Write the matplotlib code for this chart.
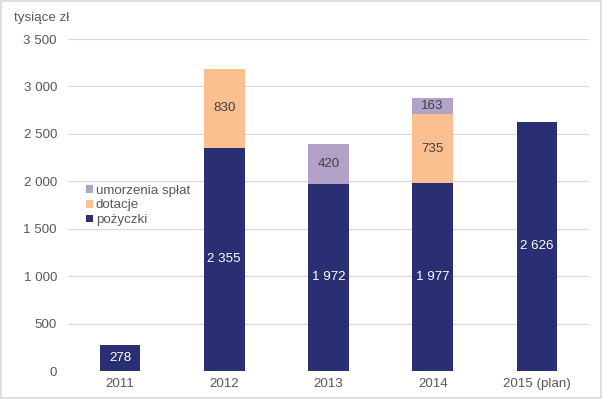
import matplotlib
matplotlib.use("Agg")
import matplotlib.pyplot as plt
from matplotlib.patches import Rectangle
import numpy as np

plt.rcParams['font.family'] = ['Liberation Sans', 'DejaVu Sans']

categories = ["2011", "2012", "2013", "2014", "2015 (plan)"]
pozyczki = [278, 2355, 1972, 1977, 2626]
dotacje = [0, 830, 0, 735, 0]
umorzenia = [0, 0, 420, 163, 0]
yticks = [0, 500, 1000, 1500, 2000, 2500, 3000, 3500]

c_poz = "#2A2F73"
c_dot = "#FAC090"
c_umo = "#B3A2C7"
txt = "#595959"
fs = 9.6

fig = plt.figure(figsize=(6.02, 3.99), dpi=100)
ax = fig.add_axes([68/602, 1 - 371/399, (589 - 68)/602, (371 - 39)/399])

x = np.arange(len(categories))
w = 0.39
b1 = ax.bar(x, pozyczki, w, color=c_poz, label="pożyczki", zorder=3)
bot2 = np.array(pozyczki)
b2 = ax.bar(x, dotacje, w, bottom=bot2, color=c_dot, label="dotacje", zorder=3)
bot3 = bot2 + np.array(dotacje)
b3 = ax.bar(x, umorzenia, w, bottom=bot3, color=c_umo, label="umorzenia spłat", zorder=3)

def fmt(v):
    return f"{v:,}".replace(",", " ")

for i in range(len(categories)):
    ax.text(x[i], pozyczki[i] / 2, fmt(pozyczki[i]), ha="center", va="center",
            color="white", fontsize=fs, zorder=4)
    if dotacje[i]:
        ax.text(x[i], bot2[i] + dotacje[i] / 2, fmt(dotacje[i]), ha="center", va="center",
                color="#404040", fontsize=fs, zorder=4)
    if umorzenia[i]:
        ax.text(x[i], bot3[i] + umorzenia[i] / 2, fmt(umorzenia[i]), ha="center", va="center",
                color="#404040", fontsize=fs, zorder=4)

ax.set_xlim(-0.5, len(categories) - 0.5)
ax.set_ylim(0, 3500)
ax.set_yticks(yticks)
ax.set_yticklabels([fmt(v) for v in yticks])
ax.set_xticks(x)
ax.set_xticklabels(categories)
ax.tick_params(axis="both", length=0, colors=txt, labelsize=fs)
ax.tick_params(axis="y", pad=8)
ax.tick_params(axis="x", pad=5)
ax.grid(axis="y", color="#D9D9D9", linewidth=0.8, zorder=0)
for s in ax.spines.values():
    s.set_visible(False)

handles = [b3, b2, b1]
leg = ax.legend(handles=handles, labels=[h.get_label() for h in handles],
                loc="upper left", bbox_to_anchor=(0.024, 0.577), frameon=False,
                fontsize=fs, handlelength=0.5, handleheight=0.5, handletextpad=0.25,
                labelspacing=0.2, borderaxespad=0)
for t in leg.get_texts():
    t.set_color(txt)

fig.text(14/602, 1 - 18/399, "tysiące zł", fontsize=fs, color=txt, ha="left", va="center")

fig.patches.append(Rectangle((0.001, 0.002), 0.997, 0.995, transform=fig.transFigure,
                             fill=False, edgecolor="#D9D9D9", linewidth=1.2))

fig.savefig("out.png", dpi=100)
